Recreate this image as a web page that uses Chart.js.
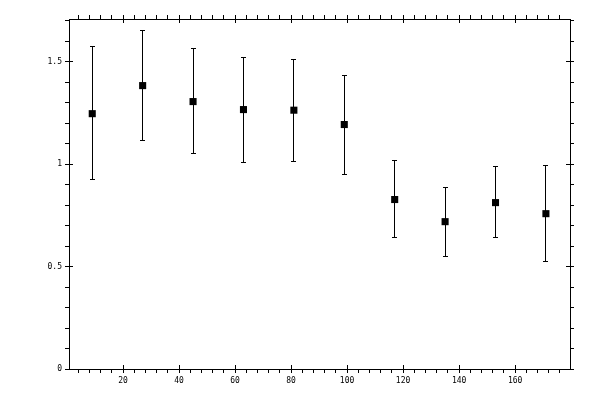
<!DOCTYPE html>
<html>
<head>
<meta charset="utf-8">
<script src="https://cdn.jsdelivr.net/npm/chart.js@4.4.1/dist/chart.umd.min.js"></script>
<style>
  html, body { margin: 0; padding: 0; background: #fff; }
  #wrap { width: 600px; height: 400px; }
</style>
</head>
<body>
<div id="wrap"><canvas id="chart" width="600" height="400"></canvas></div>
<script>
// values
const xValues = [9, 27, 45, 63, 81, 99, 117, 135, 153, 171];
const yValues = [1.246, 1.383, 1.305, 1.266, 1.263, 1.193, 0.827, 0.719, 0.812, 0.758];
const yLow = [0.926, 1.115, 1.051, 1.007, 1.012, 0.949, 0.641, 0.549, 0.641, 0.526];
const yHigh = [1.573, 1.652, 1.564, 1.520, 1.510, 1.433, 1.017, 0.885, 0.989, 0.994];

// axes
const xLabelTicks = [20, 40, 60, 80, 100, 120, 140, 160];
const yLabelTicks = [0, 0.5, 1, 1.5];
const xMinorStep = 4;
const yMinorStep = 0.1;
const xRange = [0.7, 179.6];
const yRange = [0, 1.708];

const tickFont = { family: 'DejaVu Sans Mono', size: 8 };

function minorTicks(min, max, step) {
  const out = [];
  const first = Math.ceil(min / step - 1e-9);
  for (let i = first; i * step <= max + 1e-9; i++) {
    out.push({ value: +(i * step).toFixed(4) });
  }
  return out;
}

function isMajor(list, v) {
  return list.some(m => Math.abs(m - v) < 1e-6);
}

function makeAxis(axis, position, range, step, majors, showLabels, size) {
  return {
    type: 'linear',
    axis: axis,
    position: position,
    min: range[0],
    max: range[1],
    afterBuildTicks: s => { s.ticks = minorTicks(range[0], range[1], step); },
    afterFit: s => {
      if (axis === 'x') s.height = size; else s.width = size;
    },
    border: { display: true, color: '#000', width: 1 },
    grid: { drawOnChartArea: false, drawTicks: true, tickLength: 4, color: '#000', lineWidth: 1 },
    ticks: {
      display: showLabels,
      autoSkip: false,
      maxRotation: 0,
      padding: 3,
      color: '#000',
      font: tickFont,
      callback: v => isMajor(majors, v) ? String(+v.toFixed(2)) : ''
    }
  };
}

// short inward part of the major ticks
const innerTicks = {
  id: 'innerTicks',
  afterDraw(chart) {
    const { ctx, chartArea: a, scales } = chart;
    const al = p => Math.round(p - 0.5) + 0.5;
    ctx.save();
    ctx.strokeStyle = '#000';
    ctx.lineWidth = 1;
    ctx.beginPath();
    xLabelTicks.forEach(v => {
      const px = al(scales.x.getPixelForValue(v));
      ctx.moveTo(px, a.bottom); ctx.lineTo(px, a.bottom - 4);
      ctx.moveTo(px, a.top); ctx.lineTo(px, a.top + 4);
    });
    yLabelTicks.forEach(v => {
      const py = al(scales.y.getPixelForValue(v));
      ctx.moveTo(a.left, py); ctx.lineTo(a.left + 4, py);
      ctx.moveTo(a.right, py); ctx.lineTo(a.right - 4, py);
    });
    ctx.stroke();
    ctx.restore();
  }
};

const errorBars = {
  id: 'errorBars',
  beforeDatasetsDraw(chart) {
    const { ctx, scales } = chart;
    const al = p => Math.round(p - 0.5) + 0.5;
    ctx.save();
    ctx.strokeStyle = '#000';
    ctx.lineWidth = 1;
    ctx.beginPath();
    xValues.forEach((x, i) => {
      const px = al(scales.x.getPixelForValue(x));
      const top = al(scales.y.getPixelForValue(yHigh[i]));
      const bot = al(scales.y.getPixelForValue(yLow[i]));
      ctx.moveTo(px, top); ctx.lineTo(px, bot);
      ctx.moveTo(px - 2.5, top); ctx.lineTo(px + 2.5, top);
      ctx.moveTo(px - 2.5, bot); ctx.lineTo(px + 2.5, bot);
    });
    ctx.stroke();
    ctx.restore();
  }
};

new Chart(document.getElementById('chart'), {
  type: 'scatter',
  data: {
    datasets: [{
      data: xValues.map((x, i) => ({ x: x, y: yValues[i] })),
      pointStyle: 'rect',
      pointRadius: 5,
      pointBorderWidth: 0,
      backgroundColor: '#000',
      borderColor: '#000'
    }]
  },
  options: {
    responsive: false,
    animation: false,
    layout: { padding: 0 },
    plugins: { legend: { display: false }, tooltip: { enabled: false } },
    scales: {
      x: makeAxis('x', 'bottom', xRange, xMinorStep, xLabelTicks, true, 31),
      x2: makeAxis('x', 'top', xRange, xMinorStep, xLabelTicks, false, 19),
      y: makeAxis('y', 'left', yRange, yMinorStep, yLabelTicks, true, 69),
      y2: makeAxis('y', 'right', yRange, yMinorStep, yLabelTicks, false, 30)
    }
  },
  plugins: [errorBars, innerTicks]
});
</script>
</body>
</html>
